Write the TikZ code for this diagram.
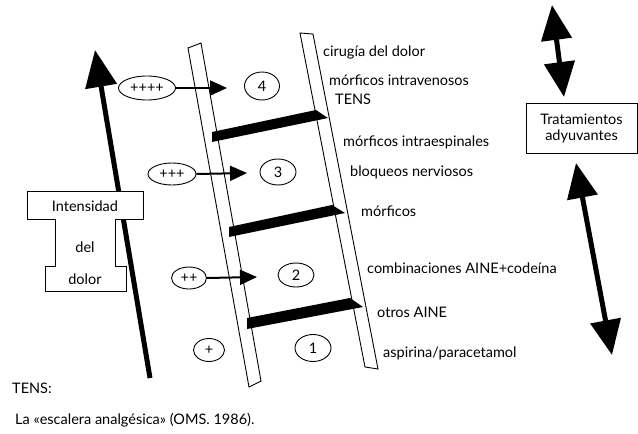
\documentclass[tikz,border=0pt]{standalone}
\usepackage{fontspec}
\setmainfont{Lato}
\usetikzlibrary{arrows.meta,shapes.geometric}

\newcommand{\txtsize}{\fontsize{14.5}{16}\selectfont}

\tikzset{
  lbl/.style={anchor=west, inner sep=0pt, font=\txtsize},
  oval/.style={ellipse, draw, line width=0.9pt, inner sep=0pt, font=\txtsize},
  rail/.style={draw, line width=0.9pt, line join=miter},
  rung/.style={fill=black},
  smallarrow/.style={line width=2pt, -{Triangle[length=17pt,width=15pt]}},
  bigarrow/.style={line width=5pt, -{Triangle[length=37pt,width=31pt]}},
  dblarrow/.style={line width=5pt, {Triangle[length=35pt,width=30pt]}-{Triangle[length=35pt,width=30pt]}},
  outline/.style={draw, line width=0.9pt},
}

\begin{document}
\begin{tikzpicture}[x=1pt, y=-1pt]
\useasboundingbox (0,0) rectangle (638,434);

% ladder rails
\draw[rail] (188,48) -- (201,43) -- (261,381) -- (249,387) -- cycle;
\draw[rail] (300,33) -- (313,34) -- (378,369) -- (365,367) -- cycle;

% ladder rungs
\fill[rung] (212,132) -- (316,110) -- (328,118) -- (212,142) -- cycle;
\fill[rung] (229,227) -- (332,205) -- (345,213) -- (229,237) -- cycle;
\fill[rung] (247,318) -- (350,298) -- (363,307) -- (247,329) -- cycle;

% intensity marks and steps
\node[oval, minimum width=57pt, minimum height=24pt] (p4) at (147,88) {++++};
\node[oval, minimum width=35pt, minimum height=28pt] (c4) at (262,86) {4};
\node[oval, minimum width=48pt, minimum height=22pt] (p3) at (172,174) {+++};
\node[oval, minimum width=36pt, minimum height=26pt] (c3) at (278,172) {3};
\node[oval, minimum width=35pt, minimum height=22pt] (p2) at (189,278) {++};
\node[oval, minimum width=36pt, minimum height=24pt] (c2) at (296,275) {2};
\node[oval, minimum width=31pt, minimum height=23pt] (p1) at (209,350) {+};
\node[oval, minimum width=36pt, minimum height=27pt] (c1) at (313,348) {1};

\coordinate (t4) at (227,88);
\coordinate (t3) at (247,173);
\coordinate (t2) at (257,277);
\draw[smallarrow] (p4.east) -- (t4);
\draw[smallarrow] (p3.east) -- (t3);
\draw[smallarrow] (p2.east) -- (t2);

% treatments beside the rails
\node[lbl] (l1) at (323,52) {cirugía del dolor};
\node[lbl] (l2) at (329,80) {mórficos intravenosos};
\node[lbl] (l3) at (335,99) {TENS};
\node[lbl] (l4) at (343,142) {mórficos intraespinales};
\node[lbl] (l5) at (350,172) {bloqueos nerviosos};
\node[lbl] (l6) at (361,211) {mórficos};
\node[lbl] (l7) at (367,268) {combinaciones AINE+codeína};
\node[lbl] (l8) at (377,312) {otros AINE};
\node[lbl] (l9) at (383,353) {aspirina/paracetamol};

% pain intensity arrow and its label block
\coordinate (ia) at (150,378);
\coordinate (ib) at (95,50);
\draw[bigarrow] (ia) -- (ib);
\draw[outline, fill=white] (27,191) -- (143,191) -- (143,219) -- (115,219) -- (115,266)
  -- (126,266) -- (126,291) -- (45,291) -- (45,266) -- (55,266) -- (55,219)
  -- (27,219) -- cycle;
\node[font=\txtsize] (i1) at (85,206) {Intensidad};
\node[font=\txtsize] (i2) at (85,247) {del};
\node[font=\txtsize] (i3) at (85,279) {dolor};

% adjuvant treatments
\node[draw, line width=0.9pt, minimum width=111pt, minimum height=50pt, inner sep=0pt,
  align=center, font=\txtsize] (adj) at (581.5,128) {Tratamientos\\adyuvantes};
\coordinate (a1) at (552,5);
\coordinate (a2) at (564,97);
\coordinate (b1) at (576,163);
\coordinate (b2) at (612,355);
\draw[dblarrow] (a1) -- (a2);
\draw[dblarrow] (b1) -- (b2);

% notes
\node[lbl] (n1) at (12,388) {TENS:};
\node[lbl] (n2) at (15,420) {La «escalera analgésica» (OMS. 1986).};
\end{tikzpicture}
\end{document}
